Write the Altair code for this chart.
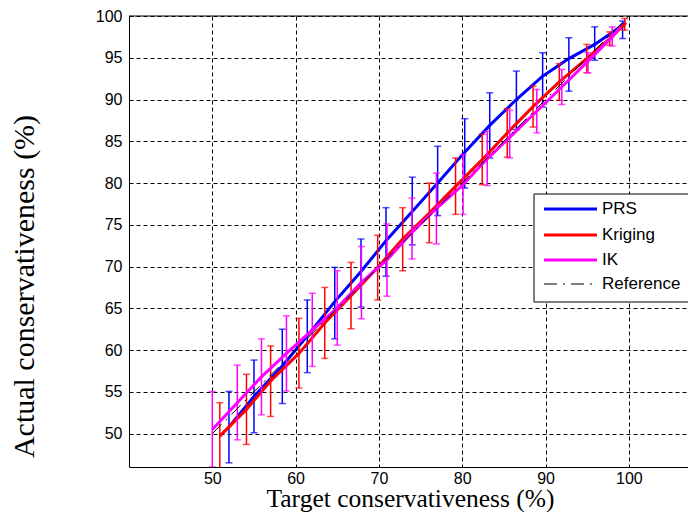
import altair as alt
import pandas as pd

# ---------------- data ----------------
prs_x = [52.0, 55.0, 58.4, 61.4, 64.7, 67.85, 70.85, 74.0, 77.05, 80.3, 83.3, 86.5, 89.65, 92.8, 95.9, 99.25]
prs_y = [50.8, 54.45, 58.1, 61.7, 65.8, 69.4, 73.1, 76.6, 80.0, 83.7, 86.9, 90.0, 92.8, 94.9, 96.6, 98.9]
prs_lo = [46.5, 50.1, 53.6, 57.3, 61.35, 65.15, 68.85, 72.6, 76.1, 79.4, 83.0, 86.4, 89.1, 91.0, 94.7, 97.3]
prs_hi = [55.05, 58.8, 62.5, 66.0, 69.9, 73.3, 77.05, 80.7, 84.4, 87.7, 90.8, 93.4, 95.6, 97.4, 98.7, 99.4]
prs_end = (99.6, 99.2)

kri_x = [50.9, 54.1, 57.0, 60.4, 63.5, 66.65, 69.85, 72.85, 76.05, 79.2, 82.4, 85.4, 88.5, 91.65, 94.95, 97.7, 99.5]
kri_y = [49.7, 52.9, 56.3, 59.6, 63.25, 66.5, 69.9, 73.3, 76.4, 79.6, 82.8, 86.0, 89.15, 92.1, 94.9, 97.3, 99.0]
kri_lo = [44.5, 48.7, 52.05, 55.45, 59.0, 62.55, 66.0, 69.5, 72.85, 76.25, 79.8, 83.1, 86.7, 89.9, 93.2, 96.5, 98.3]
kri_hi = [53.7, 57.1, 60.5, 63.8, 67.5, 70.5, 73.75, 77.05, 80.0, 83.0, 85.85, 88.9, 91.6, 94.3, 96.6, 98.1, 99.7]
kri_end = (99.6, 99.2)

ik_x = [50.0, 53.0, 55.9, 58.9, 62.0, 65.0, 67.9, 70.97, 73.97, 76.9, 80.1, 83.0, 85.7, 88.95, 91.95, 95.1, 98.0]
ik_y = [50.5, 53.7, 56.8, 59.6, 62.4, 65.05, 68.1, 70.8, 74.1, 76.95, 79.8, 82.9, 85.5, 88.6, 91.5, 94.6, 97.5]
ik_lo = [46.0, 49.25, 52.25, 55.1, 58.05, 60.6, 63.75, 66.45, 70.9, 72.7, 76.25, 79.7, 83.0, 86.0, 89.4, 93.2, 96.4]
ik_hi = [55.05, 58.2, 61.35, 64.1, 66.8, 69.5, 72.4, 75.1, 78.2, 81.2, 83.4, 86.2, 88.7, 91.2, 93.6, 95.6, 98.7]
ik_end = (99.0, 98.7)

ref_x = [50, 100]
ref_y = [50, 100]

series_names = ["PRS", "Kriging", "IK", "Reference"]
series_colors = ["#0000FF", "#FF0000", "#FF00FF", "#000000"]

x_ticks = [50, 60, 70, 80, 90, 100]
y_ticks = [50, 55, 60, 65, 70, 75, 80, 85, 90, 95, 100]

# ---------------- layout ----------------
W, H = 559, 451
xscale = alt.Scale(domain=[40, 107.1], nice=False, zero=False)
yscale = alt.Scale(domain=[46, 100], nice=False, zero=False)
xaxis = alt.Axis(values=x_ticks, title="Target conservativeness (%)", grid=True,
                 ticks=False, tickSize=0, labelPadding=3,
                 titleX=281, titleY=39, titleBaseline="alphabetic", titleAlign="center",
                 titleFont="Liberation Serif", titleFontSize=25.5)
yaxis = alt.Axis(values=y_ticks, title="Actual conservativeness (%)", grid=True,
                 ticks=False, tickSize=0, labelPadding=7,
                 titleAngle=270, titleX=-96, titleY=270, titleBaseline="alphabetic",
                 titleAlign="center", titleFont="Liberation Serif", titleFontSize=30)


def X(f):
    return alt.X(f, scale=xscale, axis=xaxis)


def Y(f):
    return alt.Y(f, scale=yscale, axis=yaxis)


def series_layers(xs, ys, lo, hi, end, color):
    bars = pd.DataFrame({"x": xs, "lo": lo, "hi": hi})
    line = pd.DataFrame({"x": xs + [end[0]], "y": ys + [end[1]]})
    rule = alt.Chart(bars).mark_rule(color=color, strokeWidth=1.5, clip=True).encode(
        x=X("x:Q"), y=Y("lo:Q"), y2="hi:Q")
    cap_lo = alt.Chart(bars).mark_tick(color=color, orient="horizontal", size=7,
                                       thickness=1.5, clip=True).encode(x=X("x:Q"), y=Y("lo:Q"))
    cap_hi = alt.Chart(bars).mark_tick(color=color, orient="horizontal", size=7,
                                       thickness=1.5, clip=True).encode(x=X("x:Q"), y=Y("hi:Q"))
    ln = alt.Chart(line).mark_line(color=color, strokeWidth=3, clip=True).encode(
        x=X("x:Q"), y=Y("y:Q"))
    return [rule, cap_lo, cap_hi, ln]


layers = []
layers += series_layers(prs_x, prs_y, prs_lo, prs_hi, prs_end, series_colors[0])
layers += series_layers(kri_x, kri_y, kri_lo, kri_hi, kri_end, series_colors[1])
layers += series_layers(ik_x, ik_y, ik_lo, ik_hi, ik_end, series_colors[2])

ref = alt.Chart(pd.DataFrame({"x": ref_x, "y": ref_y})).mark_line(
    color="black", strokeWidth=1, strokeDash=[13, 6, 2, 6]).encode(x=X("x:Q"), y=Y("y:Q"))
layers.append(ref)

one = alt.Data(values=[{"a": 1}])
top_border = alt.Chart(one).mark_rule(color="black", strokeWidth=1).encode(
    x=alt.value(0), x2=alt.value(W), y=alt.value(0))
layers.append(top_border)

# legend box
box = alt.Chart(one).mark_rect(fill="white", stroke="black", strokeWidth=1).encode(
    x=alt.value(405), x2=alt.value(561), y=alt.value(178), y2=alt.value(286))
layers.append(box)
row_y = [193, 219, 244, 268]
for name, col, ry in zip(series_names, series_colors, row_y):
    dash = [13, 6, 2, 6] if name == "Reference" else [1, 0]
    sw = 1 if name == "Reference" else 3
    layers.append(alt.Chart(one).mark_rule(color=col, strokeWidth=sw, strokeDash=dash).encode(
        x=alt.value(415), x2=alt.value(468), y=alt.value(ry)))
    layers.append(alt.Chart(one).mark_text(text=name, align="left", baseline="middle",
                                           font="Liberation Sans", fontSize=17, color="black").encode(
        x=alt.value(473), y=alt.value(ry)))

chart = alt.layer(*layers).properties(
    width=W, height=H,
    autosize=alt.AutoSizeParams(type="none"),
    padding={"left": 121, "top": 8, "right": 0, "bottom": 45},
    background="white",
).configure_view(stroke=None).configure_axis(
    domainColor="black", domainWidth=1,
    gridColor="black", gridDash=[4, 3], gridWidth=1, gridOpacity=1,
    labelFont="Liberation Sans", labelFontSize=16, labelColor="black",
    titleColor="black", titleFontWeight="normal",
)

chart.save("out.html", embed_options={"renderer": "svg", "actions": False})
